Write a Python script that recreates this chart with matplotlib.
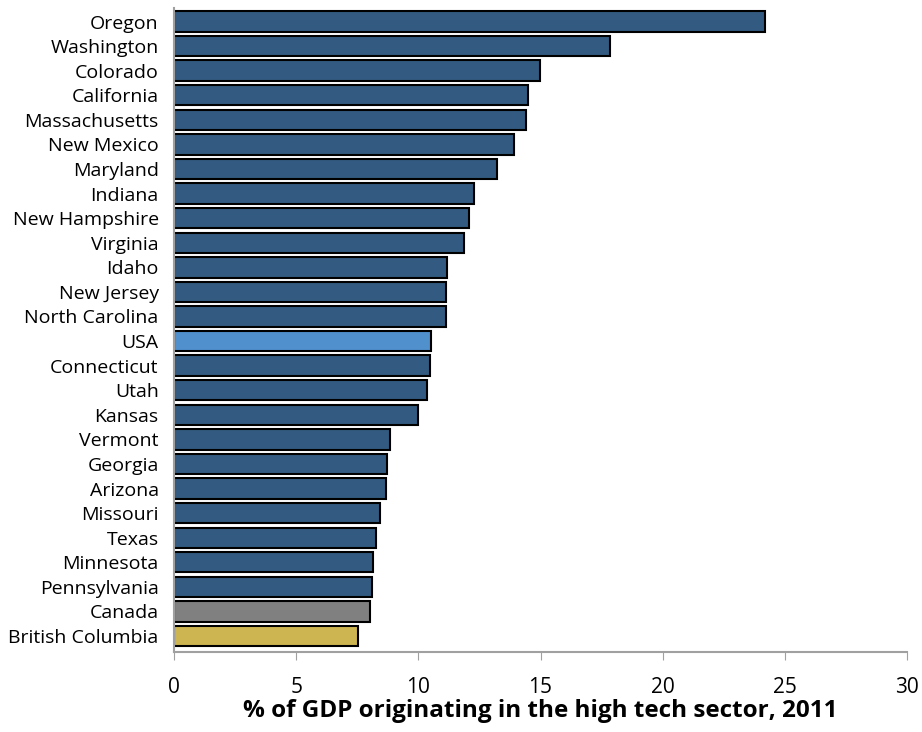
import matplotlib
matplotlib.use("Agg")
import matplotlib.pyplot as plt

plt.rcParams['font.family'] = ['Open Sans', 'DejaVu Sans']

# data
regions = ['Oregon', 'Washington', 'Colorado', 'California', 'Massachusetts',
           'New Mexico', 'Maryland', 'Indiana', 'New Hampshire', 'Virginia',
           'Idaho', 'New Jersey', 'North Carolina', 'USA', 'Connecticut',
           'Utah', 'Kansas', 'Vermont', 'Georgia', 'Arizona', 'Missouri',
           'Texas', 'Minnesota', 'Pennsylvania', 'Canada', 'British Columbia']
share = [24.2, 17.85, 14.97, 14.48, 14.41, 13.92, 13.2, 12.28, 12.07, 11.87,
         11.18, 11.14, 11.13, 10.52, 10.48, 10.36, 10.0, 8.85, 8.7, 8.68,
         8.44, 8.27, 8.15, 8.1, 8.03, 7.55]

colors = []
for r in regions:
    if r == 'USA':
        colors.append('#4F90CD')
    elif r == 'Canada':
        colors.append('#808080')
    elif r == 'British Columbia':
        colors.append('#CDB551')
    else:
        colors.append('#335A80')

fig = plt.figure(figsize=(9.22, 7.32), dpi=100)
ax = fig.add_axes([174 / 922, 1 - 652 / 732, (907 - 174) / 922, (652 - 8) / 732])

ypos = range(len(regions))
ax.barh(ypos, share, height=0.83, color=colors, edgecolor='black', linewidth=1.5)

ax.set_yticks(list(ypos))
ax.set_yticklabels(regions, fontsize=14)
ax.set_ylim(25.65, -0.55)
ax.set_xlim(0, 30)
ax.set_xticks(range(0, 31, 5))
ax.tick_params(axis='x', labelsize=15, direction='out', length=6, color='#A0A0A0', pad=12)
ax.tick_params(axis='y', length=0, pad=11)

for side in ['top', 'right']:
    ax.spines[side].set_visible(False)
for side in ['left', 'bottom']:
    ax.spines[side].set_color('#A0A0A0')
    ax.spines[side].set_linewidth(1.5)

ax.set_xlabel('% of GDP originating in the high tech sector, 2011',
              fontsize=17.5, fontweight='bold', labelpad=1)

fig.savefig('out.png', dpi=100)
